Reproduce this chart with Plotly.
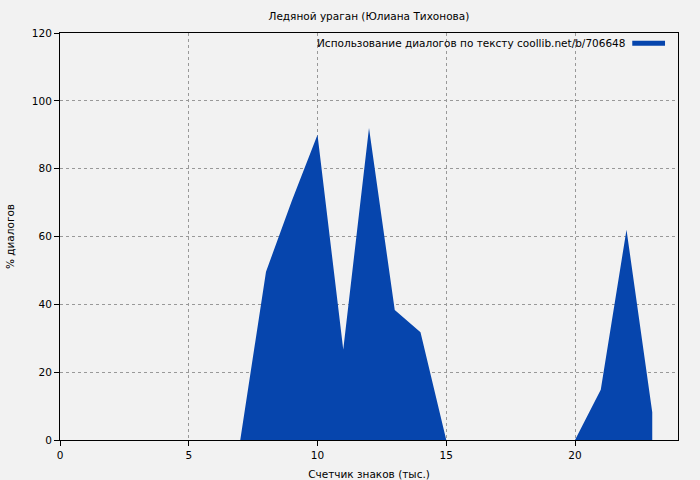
import plotly.graph_objects as go

chars_k = list(range(0, 24))
dialog_pct = [0, 0, 0, 0, 0, 0, 0, 0, 49.6, 70.5, 90, 26.7, 92, 38.3, 31.8, 0,
              0, 0, 0, 0, 0, 14.8, 62, 8.2]

x_ticks = [0, 5, 10, 15, 20]
y_ticks = [0, 20, 40, 60, 80, 100, 120]

title = "Ледяной ураган (Юлиана Тихонова)"
legend_text = "Использование диалогов по тексту coollib.net/b/706648"
blue = "#0645AD"
font = "DejaVu Sans, sans-serif"
fs = 10.5

fig = go.Figure(go.Scatter(
    x=chars_k,
    y=dialog_pct,
    mode="lines",
    fill="tozeroy",
    fillcolor=blue,
    line=dict(width=0, color=blue),
    showlegend=False,
    hoverinfo="skip",
))

axis_common = dict(
    showline=True,
    linecolor="black",
    linewidth=1,
    mirror=True,
    ticks="outside",
    ticklen=5,
    tickcolor="black",
    showgrid=True,
    gridcolor="#999999",
    griddash="dot",
    gridwidth=1,
    zeroline=False,
    automargin=False,
    tickfont=dict(size=fs, color="black"),
)

fig.update_xaxes(range=[0, 24], tickvals=x_ticks,
                 title=dict(text="Счетчик знаков (тыс.)", font=dict(size=fs)),
                 **axis_common)
fig.update_yaxes(range=[0, 120], tickvals=y_ticks,
                 title=dict(text="% диалогов", font=dict(size=fs)),
                 **axis_common)

# gnuplot-style key: text on the left, colour sample on the right
fig.add_annotation(x=0.917, y=0.975, xref="paper", yref="paper",
                   text=legend_text, showarrow=False, xanchor="right", yanchor="middle",
                   font=dict(size=fs, color="black"))
fig.add_shape(type="line", xref="paper", yref="paper",
              x0=0.926, x1=0.979, y0=0.975, y1=0.975,
              line=dict(color=blue, width=5))

fig.update_layout(
    width=700,
    height=480,
    title=dict(text=title, x=0.527, xanchor="center", y=0.974, font=dict(size=fs, color="black")),
    font=dict(family=font, size=fs, color="black"),
    paper_bgcolor="#F2F2F2",
    plot_bgcolor="#F2F2F2",
    margin=dict(l=60, r=22, t=33, b=40),
)

fig.write_html("out.html", config={"displayModeBar": False},
               post_script="document.body.style.margin='0';document.body.style.overflow='hidden';")
